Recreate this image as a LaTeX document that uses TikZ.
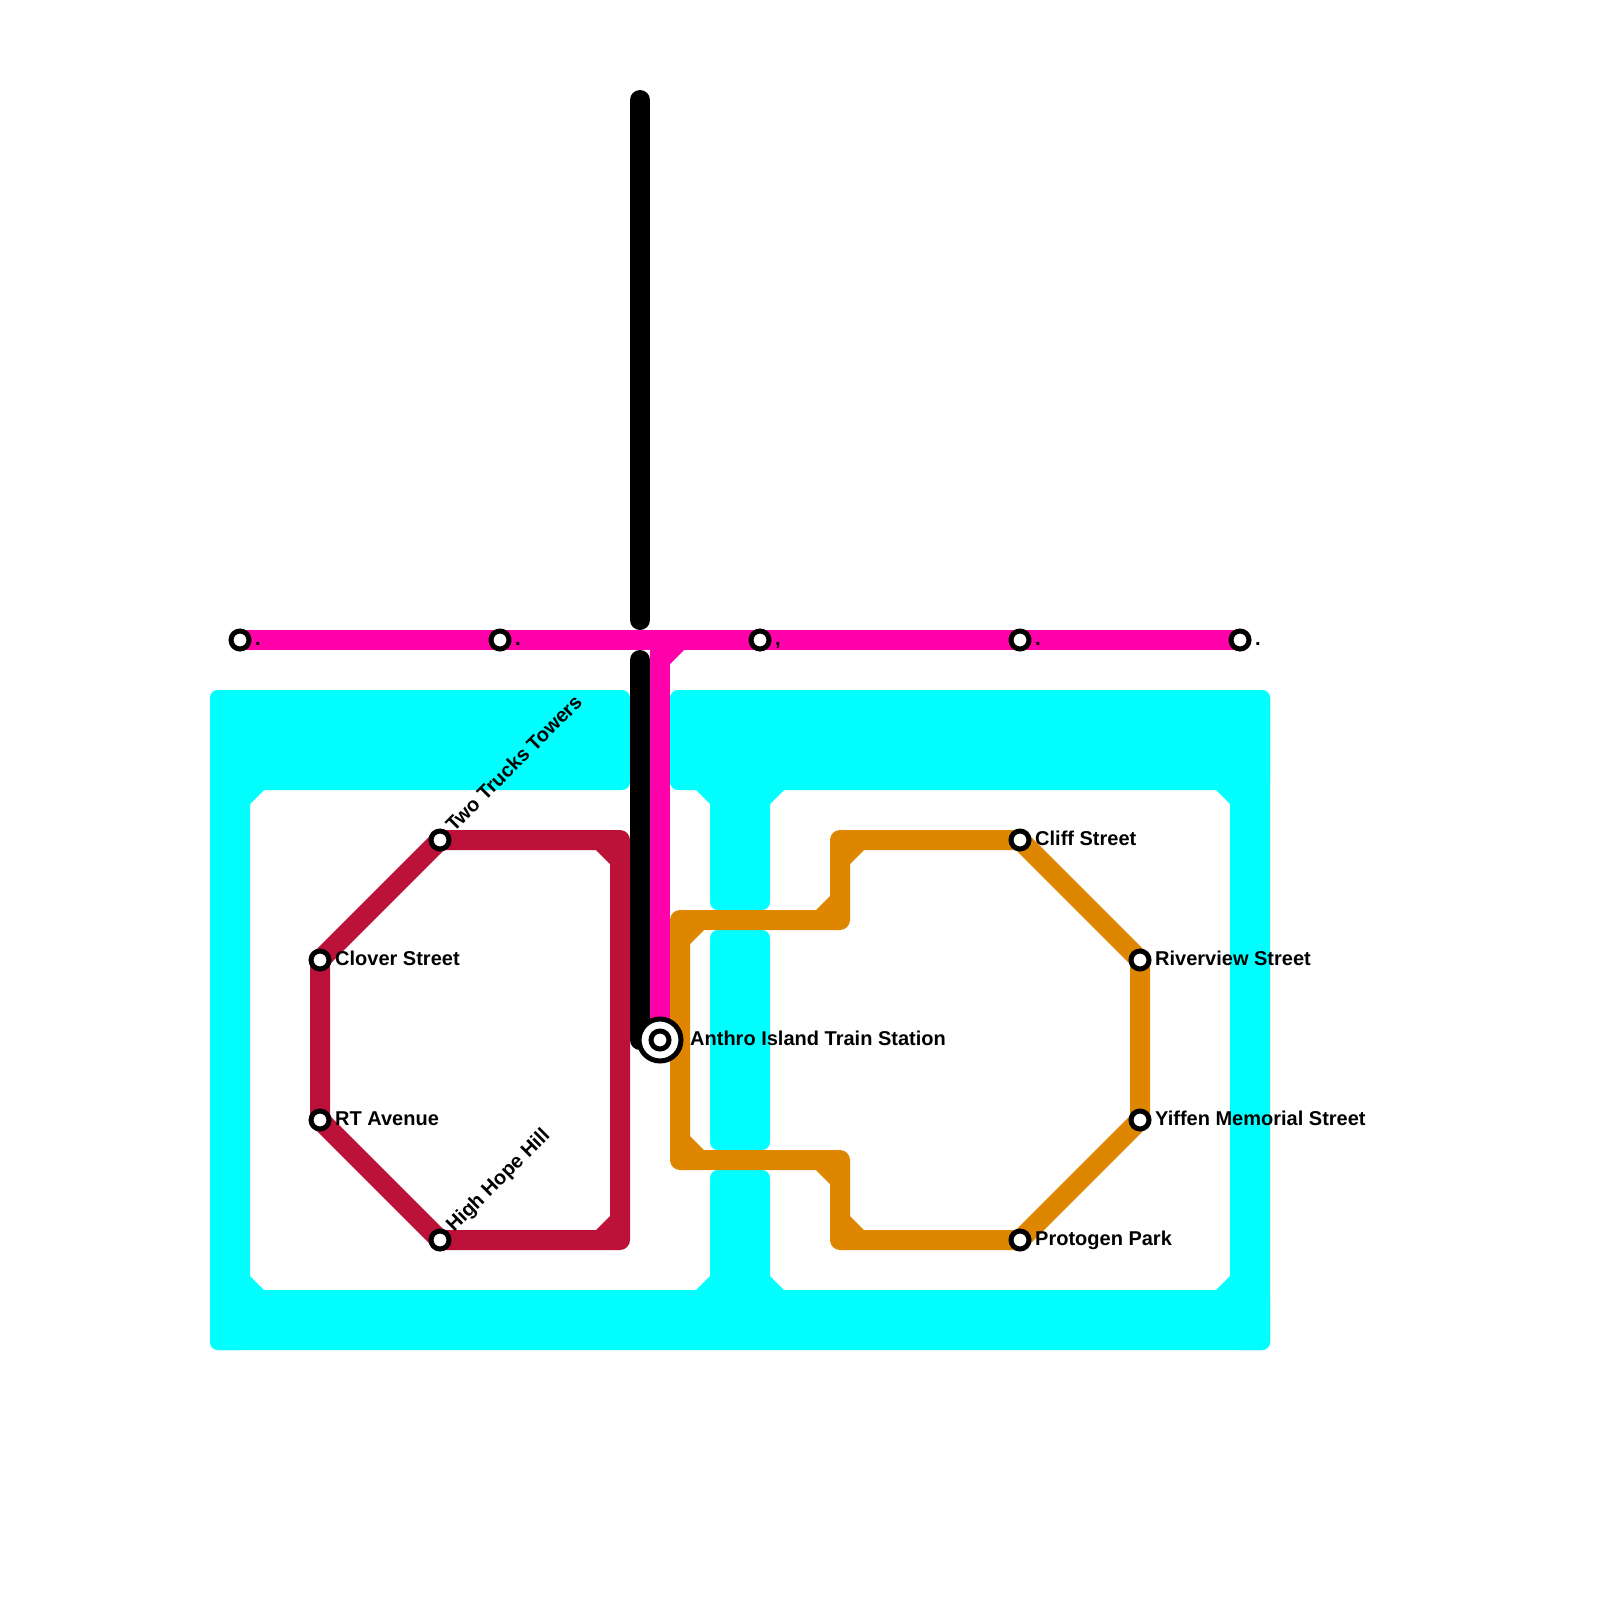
\documentclass[tikz,border=0pt]{standalone}
\usepackage{fontspec}
\setmainfont{Liberation Sans}
\usetikzlibrary{backgrounds}

\definecolor{aqualine}{RGB}{0,255,255}
\definecolor{pinkline}{RGB}{255,0,170}
\definecolor{redline}{RGB}{188,18,58}
\definecolor{orangeline}{RGB}{223,134,0}

\begin{document}
\begin{tikzpicture}[
	x=1pt, y=-1pt,
	stn/.style={circle, draw=black, fill=white, line width=5pt, minimum size=18pt, inner sep=0pt},
	hub/.style={circle, draw=black, fill=white, line width=5pt, minimum size=42pt, inner sep=0pt},
	lbl/.style={anchor=base west, inner sep=0pt, font=\fontsize{20}{22}\selectfont\bfseries},
	diag/.style={lbl, rotate=45},
	aqua/.style={fill=aqualine, rounded corners=8pt},
	rail/.style={line width=20pt, line join=round}
]
\useasboundingbox (0,0) rectangle (1600,1600);

% stations on the pink line
\node[stn] (P1) at (240,640) {};
\node[stn] (P2) at (500,640) {};
\node[stn] (P3) at (760,640) {};
\node[stn] (P4) at (1020,640) {};
\node[stn] (P5) at (1240,640) {};
\node[lbl] (P1t) at (255,645) {.};
\node[lbl] (P2t) at (515,645) {.};
\node[lbl] (P3t) at (775,645) {,};
\node[lbl] (P4t) at (1035,645) {.};
\node[lbl] (P5t) at (1255,645) {.};

% stations on the red loop
\node[stn] (R1) at (440,840) {};
\node[stn] (R2) at (320,960) {};
\node[stn] (R3) at (320,1120) {};
\node[stn] (R4) at (440,1240) {};
\node[diag] (R1t) at (454,833) {Two Trucks Towers};
\node[lbl] (R2t) at (335,965) {Clover Street};
\node[lbl] (R3t) at (335,1125) {RT Avenue};
\node[diag] (R4t) at (454,1233) {High Hope Hill};

% stations on the orange loop
\node[stn] (O1) at (1020,840) {};
\node[stn] (O2) at (1140,960) {};
\node[stn] (O3) at (1140,1120) {};
\node[stn] (O4) at (1020,1240) {};
\node[lbl] (O1t) at (1035,845) {Cliff Street};
\node[lbl] (O2t) at (1155,965) {Riverview Street};
\node[lbl] (O3t) at (1155,1125) {Yiffen Memorial Street};
\node[lbl] (O4t) at (1035,1245) {Protogen Park};

% main station
\node[hub] (H) at (660,1040) {};
\node[stn] (Hc) at (660,1040) {};
\node[lbl] (Ht) at (690,1045) {Anthro Island Train Station};

% bends and line ends
\coordinate (B1) at (640,100);
\coordinate (B2) at (640,620);
\coordinate (B3) at (640,660);
\coordinate (B4) at (640,1040);
\coordinate (T) at (660,640);
\coordinate (C1) at (620,840);
\coordinate (C2) at (620,1240);
\coordinate (D1) at (840,840);
\coordinate (D2) at (840,920);
\coordinate (D3) at (680,920);
\coordinate (D4) at (680,1160);
\coordinate (D5) at (840,1160);
\coordinate (D6) at (840,1240);

\begin{pgfonlayer}{background}
% aqua frame
\fill[aqua] (210,690) rectangle (250,1350);
\fill[aqua] (1230,690) rectangle (1270,1350);
\fill[aqua] (210,1290) rectangle (1270,1350);
\fill[aqua] (210,690) rectangle (630,790);
\fill[aqua] (670,690) rectangle (1270,790);
\fill[aqua] (710,770) rectangle (770,910);
\fill[aqua] (710,930) rectangle (770,1150);
\fill[aqua] (710,1170) rectangle (770,1310);
\foreach \x/\y/\u/\v in {250/790/14/14, 1230/790/-14/14, 250/1290/14/-14, 1230/1290/-14/-14, 710/790/-14/14, 770/790/14/14, 710/1290/-14/-14, 770/1290/14/-14}
	\fill[aqualine] (\x,\y) -- ++(\u,0) -- ++(-\u,\v) -- cycle;

% lines
\draw[rail, draw=black, line cap=round] (B1) -- (B2);
\draw[rail, draw=black, line cap=round] (B3) -- (B4);
\draw[rail, draw=pinkline] (P1.center) -- (P5.center);
\draw[rail, draw=pinkline] (T) -- (H.center);
\fill[pinkline] (670,650) -- ++(14,0) -- ++(-14,14) -- cycle;

\draw[rail, draw=redline] (R1.center) -- (C1) -- (C2) -- (R4.center) -- (R3.center) -- (R2.center) -- cycle;
\foreach \x/\y/\u/\v in {610/850/-14/14, 610/1230/-14/-14}
	\fill[redline] (\x,\y) -- ++(\u,0) -- ++(-\u,\v) -- cycle;

\draw[rail, draw=orangeline] (O1.center) -- (O2.center) -- (O3.center) -- (O4.center) -- (D6) -- (D5) -- (D4) -- (D3) -- (D2) -- (D1) -- cycle;
\foreach \x/\y/\u/\v in {690/930/14/14, 690/1150/14/-14, 830/910/-14/-14, 850/850/14/14, 830/1170/-14/14, 850/1230/14/-14}
	\fill[orangeline] (\x,\y) -- ++(\u,0) -- ++(-\u,\v) -- cycle;
\end{pgfonlayer}
\end{tikzpicture}
\end{document}
